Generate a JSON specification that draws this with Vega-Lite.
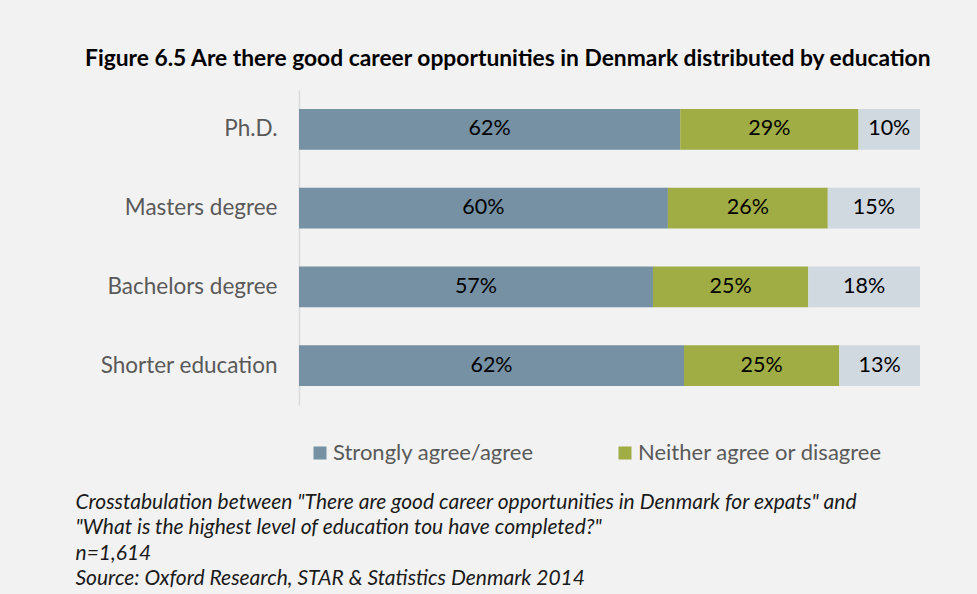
{
  "$schema": "https://vega.github.io/schema/vega-lite/v6.json",
  "width": 621,
  "height": 315,
  "autosize": "none",
  "padding": {"left": 299, "top": 90, "right": 57, "bottom": 189},
  "background": "#f2f2f2",
  "config": {"view": {"stroke": null}, "font": "Lato"},
  "title": {
    "text": "Figure 6.5 Are there good  career opportunities in Denmark  distributed by education",
    "anchor": "start",
    "frame": "group",
    "dx": -214,
    "offset": 19,
    "fontSize": 22.8,
    "fontWeight": "bold",
    "color": "#000000",
    "font": "Lato"
  },
  "data": {
    "values": [
      {"edu": "Ph.D.", "resp": "Strongly agree/agree", "order": 1, "value": 62},
      {"edu": "Ph.D.", "resp": "Neither agree or disagree", "order": 2, "value": 29},
      {"edu": "Ph.D.", "resp": "Disagree/strongly disagree", "order": 3, "value": 10},
      {"edu": "Masters degree", "resp": "Strongly agree/agree", "order": 1, "value": 60},
      {"edu": "Masters degree", "resp": "Neither agree or disagree", "order": 2, "value": 26},
      {"edu": "Masters degree", "resp": "Disagree/strongly disagree", "order": 3, "value": 15},
      {"edu": "Bachelors degree", "resp": "Strongly agree/agree", "order": 1, "value": 57},
      {"edu": "Bachelors degree", "resp": "Neither agree or disagree", "order": 2, "value": 25},
      {"edu": "Bachelors degree", "resp": "Disagree/strongly disagree", "order": 3, "value": 18},
      {"edu": "Shorter education", "resp": "Strongly agree/agree", "order": 1, "value": 62},
      {"edu": "Shorter education", "resp": "Neither agree or disagree", "order": 2, "value": 25},
      {"edu": "Shorter education", "resp": "Disagree/strongly disagree", "order": 3, "value": 13}
    ]
  },
  "transform": [
    {"stack": "value", "groupby": ["edu"], "sort": [{"field": "order"}], "as": ["v0", "v1"], "offset": "normalize"},
    {"calculate": "(datum.v0 + datum.v1) / 2", "as": "mid"},
    {"calculate": "datum.value + '%'", "as": "label"}
  ],
  "encoding": {
    "y": {
      "field": "edu",
      "type": "nominal",
      "sort": ["Ph.D.", "Masters degree", "Bachelors degree", "Shorter education"],
      "scale": {"paddingInner": 0.48, "paddingOuter": 0.24},
      "axis": {
        "title": null,
        "ticks": false,
        "labelFontSize": 22.5,
        "labelColor": "#595959",
        "labelPadding": 22,
        "labelLimit": 0,
        "domainColor": "#d9d9d9",
        "domainWidth": 1.5,
        "labelFont": "Lato"
      }
    }
  },
  "layer": [
    {
      "mark": {"type": "bar"},
      "encoding": {
        "x": {
          "field": "v0",
          "type": "quantitative",
          "scale": {"domain": [0, 1], "nice": false},
          "axis": {
            "labels": false,
            "ticks": false,
            "domain": false,
            "grid": false,
            "title": [
              "Crosstabulation between \"There are good career opportunities in Denmark for expats\" and",
              "\"What is the highest level of education tou have completed?\"",
              "n=1,614",
              "Source: Oxford Research, STAR & Statistics Denmark 2014"
            ],
            "titleFont": "Lato",
            "titleFontStyle": "italic",
            "titleFontWeight": "normal",
            "titleFontSize": 21,
            "titleColor": "#1a1a1a",
            "titleAlign": "left",
            "titleAnchor": "start",
            "titleBaseline": "top",
            "titleX": -224,
            "titleY": 86,
            "titleLineHeight": 25.5,
            "titleLimit": 0
          }
        },
        "x2": {"field": "v1"},
        "color": {
          "field": "resp",
          "type": "nominal",
          "scale": {
            "domain": ["Strongly agree/agree", "Neither agree or disagree", "Disagree/strongly disagree"],
            "range": ["#7591a3", "#a0ad45", "#d0d8e0"]
          },
          "legend": {
            "values": ["Strongly agree/agree", "Neither agree or disagree"],
            "title": null,
            "orient": "none",
            "direction": "horizontal",
            "legendX": 10,
            "legendY": 352,
            "symbolType": "square",
            "symbolSize": 169,
            "symbolStrokeWidth": 0,
            "labelFontSize": 22,
            "labelColor": "#595959",
            "labelFont": "Lato",
            "labelOffset": 2,
            "labelLimit": 0,
            "columnPadding": 80
          }
        }
      }
    },
    {
      "mark": {"type": "text", "fontSize": 21.5, "color": "#000000", "font": "Lato"},
      "encoding": {
        "x": {"field": "mid", "type": "quantitative"},
        "text": {"field": "label"}
      }
    }
  ]
}
